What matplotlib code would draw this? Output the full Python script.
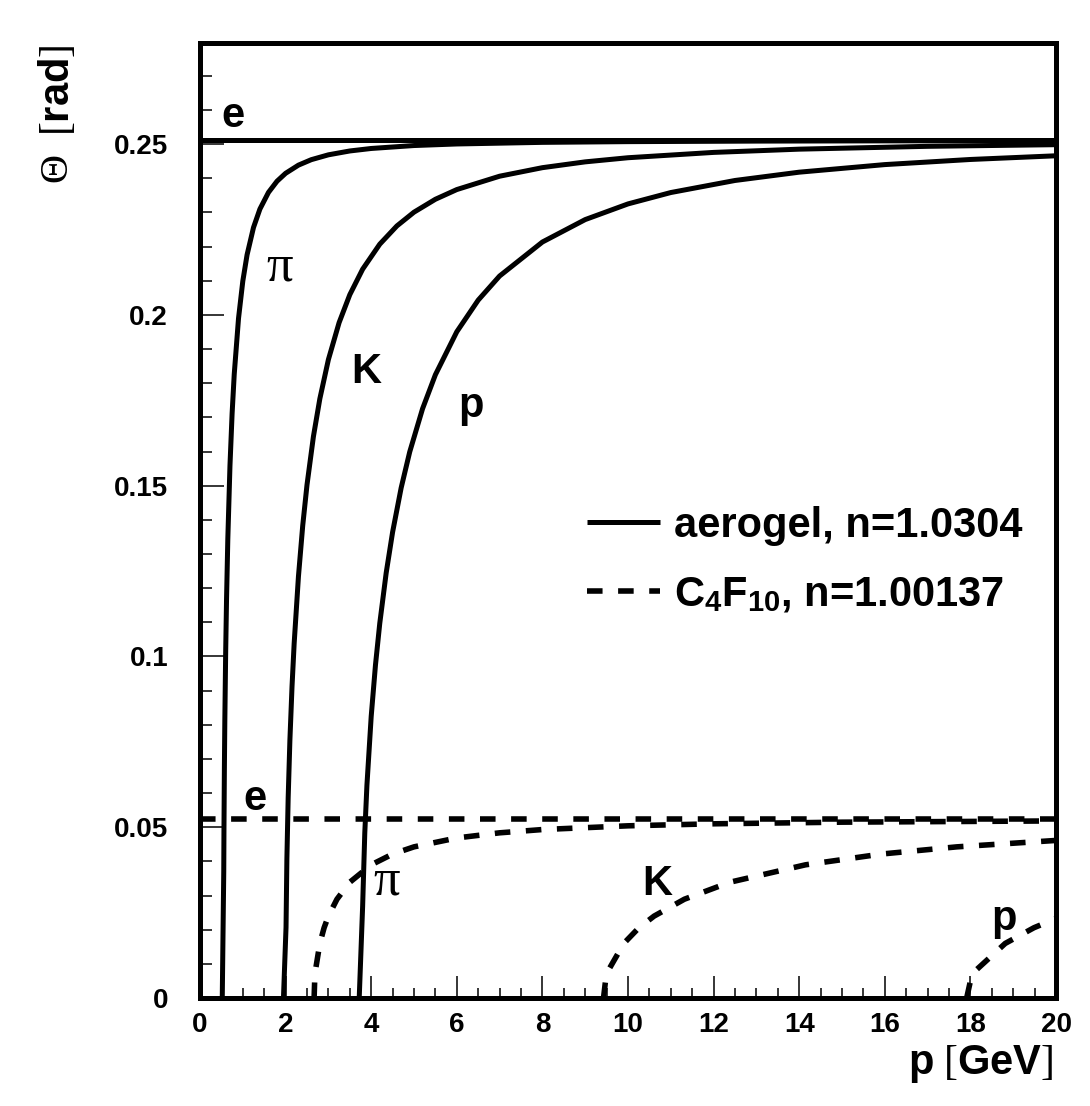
import matplotlib
matplotlib.use('Agg')
import matplotlib.pyplot as plt
from matplotlib.ticker import MultipleLocator

plt.rcParams['font.family'] = ['Liberation Sans', 'DejaVu Sans']
plt.rcParams['mathtext.fontset'] = 'custom'
plt.rcParams['mathtext.rm'] = 'Liberation Serif'
plt.rcParams['mathtext.bf'] = 'Liberation Sans:bold'
plt.rcParams['mathtext.it'] = 'Liberation Serif:italic'

# ---------------- data ----------------
# aerogel, n=1.0304 (solid)
p_e = [0.0, 20.0]
th_e_aero = [0.2511, 0.2511]

p_pi_aero = [0.52, 0.555, 0.56, 0.57, 0.58, 0.60, 0.62, 0.65, 0.70, 0.75, 0.80, 0.90,
             1.00, 1.10, 1.25, 1.40, 1.60, 1.80, 2.00, 2.30, 2.60, 3.00, 3.50, 4.00,
             5.00, 6.00, 8.00, 10.0, 13.0, 16.0, 20.0]
th_pi_aero = [0.0, 0.0370, 0.04963, 0.0676, 0.0811, 0.10135, 0.11671, 0.13446, 0.1558,
              0.17109, 0.18265, 0.19898, 0.20988, 0.2176, 0.22559, 0.23099, 0.23586,
              0.23914, 0.24145, 0.24384, 0.24544, 0.24686, 0.24799, 0.24872, 0.24958,
              0.25004, 0.25051, 0.25072, 0.25088, 0.25095, 0.2510]

p_K_aero = [1.95, 2.01, 2.03, 2.06, 2.10, 2.15, 2.20, 2.30, 2.40, 2.50, 2.65, 2.80,
            3.00, 3.25, 3.50, 3.80, 4.20, 4.60, 5.00, 5.50, 6.00, 7.00, 8.00, 9.00,
            10.0, 12.0, 14.0, 17.0, 20.0]
th_K_aero = [0.0, 0.02069, 0.04069, 0.05857, 0.07537, 0.0912, 0.10381, 0.12339, 0.1383,
             0.15023, 0.16439, 0.17544, 0.18692, 0.19773, 0.20591, 0.21338, 0.22070,
             0.22604, 0.23007, 0.23385, 0.23669, 0.24060, 0.24310, 0.24480, 0.24601,
             0.24757, 0.24852, 0.24935, 0.24983]

p_p_aero = [3.72, 3.80, 3.85, 3.90, 4.00, 4.10, 4.20, 4.35, 4.50, 4.70, 4.90, 5.20,
            5.50, 6.00, 6.50, 7.00, 8.00, 9.00, 10.0, 11.0, 12.5, 14.0, 16.0, 18.0, 20.0]
th_p_aero = [0.0, 0.02689, 0.04828, 0.06227, 0.08246, 0.09752, 0.10968, 0.12445, 0.1364,
             0.14936, 0.15989, 0.17253, 0.18248, 0.19506, 0.20432, 0.21138, 0.22133,
             0.22790, 0.23249, 0.23582, 0.23935, 0.24178, 0.24400, 0.24550, 0.24658]

# C4F10, n=1.00137 (dashed)
th_e_gas = [0.05231, 0.05231]

p_pi_gas = [2.666, 2.68, 2.7, 2.8, 2.9, 3.0, 3.2, 3.5, 4.0, 4.5, 5.0, 6.0, 7.0, 8.0,
            10.0, 12.0, 15.0, 20.0]
th_pi_gas = [0.0, 0.00535, 0.00827, 0.01598, 0.02058, 0.02398, 0.02892, 0.03389, 0.03899,
             0.04214, 0.04425, 0.04686, 0.04836, 0.04932, 0.05041, 0.05100, 0.05148, 0.05184]

p_K_gas = [9.428, 9.478, 9.549, 9.902, 10.256, 10.61, 11.317, 12.378, 14.146, 15.914, 17.683, 20.0]
th_K_gas = [0.0, 0.00535, 0.00827, 0.01598, 0.02058, 0.02398, 0.02892, 0.03389, 0.03899,
            0.04214, 0.04425, 0.04613]

p_p_gas = [17.913, 18.007, 18.142, 18.814, 19.486, 20.0]
th_p_gas = [0.0, 0.00535, 0.00827, 0.01598, 0.02058, 0.02326]

x_ticks = [0, 2, 4, 6, 8, 10, 12, 14, 16, 18, 20]
x_tick_labels = ['0', '2', '4', '6', '8', '10', '12', '14', '16', '18', '20']
y_ticks = [0.0, 0.05, 0.1, 0.15, 0.2, 0.25]
y_tick_labels = ['0', '0.05', '0.1', '0.15', '0.2', '0.25']

legend_labels = ['aerogel, n=1.0304', r'C$_\mathbf{4}$F$_\mathbf{10}$, n=1.00137']

# curve labels: (text, p, theta)
labels_aero = [('e', 0.77, 0.2551), ('K', 3.885, 0.1800), ('p', 6.33, 0.1702)]
labels_gas = [('e', 1.282, 0.0550), ('K', 10.68, 0.0302), ('p', 18.79, 0.0199)]
pi_labels = [(1.865, 0.2102), (4.35, 0.0302)]

# ---------------- figure ----------------
fig = plt.figure(figsize=(10.9, 11.06), dpi=100)
ax = fig.add_axes([200 / 1090, 1 - 998 / 1106, 856 / 1090, 955 / 1106])

lw = 3.6
solid = dict(color='black', lw=lw, solid_capstyle='butt', solid_joinstyle='round')
dashed = dict(color='black', lw=4.0, ls=(0, (2.8, 2.8)), dash_capstyle='butt')

ax.plot(p_e, th_e_aero, **solid)
h1, = ax.plot(p_pi_aero, th_pi_aero, **solid)
ax.plot(p_K_aero, th_K_aero, **solid)
ax.plot(p_p_aero, th_p_aero, **solid)

ax.plot(p_e, th_e_gas, **dashed)
h2, = ax.plot(p_pi_gas, th_pi_gas, **dashed)
ax.plot(p_K_gas, th_K_gas, **dashed)
ax.plot(p_p_gas, th_p_gas, **dashed)

ax.set_xlim(0, 20)
ax.set_ylim(0, 0.2796)

ax.set_xticks(x_ticks, x_tick_labels)
ax.xaxis.set_minor_locator(MultipleLocator(0.5))
ax.set_yticks(y_ticks, y_tick_labels)
ax.yaxis.set_minor_locator(MultipleLocator(0.01))
ax.tick_params(which='both', direction='in', top=False, right=False, color='black')
ax.tick_params(axis='x', which='major', length=15.8, width=1.1, pad=10, labelsize=20)
ax.tick_params(axis='x', which='minor', length=7.2, width=1.1)
ax.tick_params(axis='y', which='major', length=17.3, width=1.1, pad=23, labelsize=20)
ax.tick_params(axis='y', which='minor', length=8.6, width=1.1)
for lab in ax.get_xticklabels() + ax.get_yticklabels():
    lab.set_fontweight('bold')

for s in ax.spines.values():
    s.set_linewidth(3.6)

# y label: "Θ [rad]" (Θ in a serif face, [rad] bold)
ax.set_ylabel(r'$[\mathbf{rad}]$', fontsize=30)
ax.yaxis.set_label_coords(-0.1425, 0.9503)
ax.text(-0.167, 0.8696, 'Θ', rotation=90, ha='center', va='center',
        family='Liberation Serif', fontsize=29, transform=ax.transAxes)

ax.set_xlabel(r'$\mathbf{p}\ [\mathbf{GeV}]$', fontsize=30, ha='right')
ax.xaxis.set_label_coords(0.9965, -0.047)

for t, x, y in labels_aero + labels_gas:
    ax.text(x, y, t, ha='center', va='baseline', fontsize=30, fontweight='bold')
for x, y in pi_labels:
    ax.text(x, y, 'π', ha='center', va='baseline', fontsize=38, family='Liberation Serif')

ax.legend(handles=[h1, h2], labels=legend_labels, loc='center left',
          bbox_to_anchor=(0.452, 0.4587), frameon=False,
          prop={'family': 'Liberation Sans', 'weight': 'bold', 'size': 30},
          handlelength=1.75, handletextpad=0.34, labelspacing=0.69,
          borderpad=0, borderaxespad=0)

fig.savefig('out.png', dpi=100, facecolor='white')
